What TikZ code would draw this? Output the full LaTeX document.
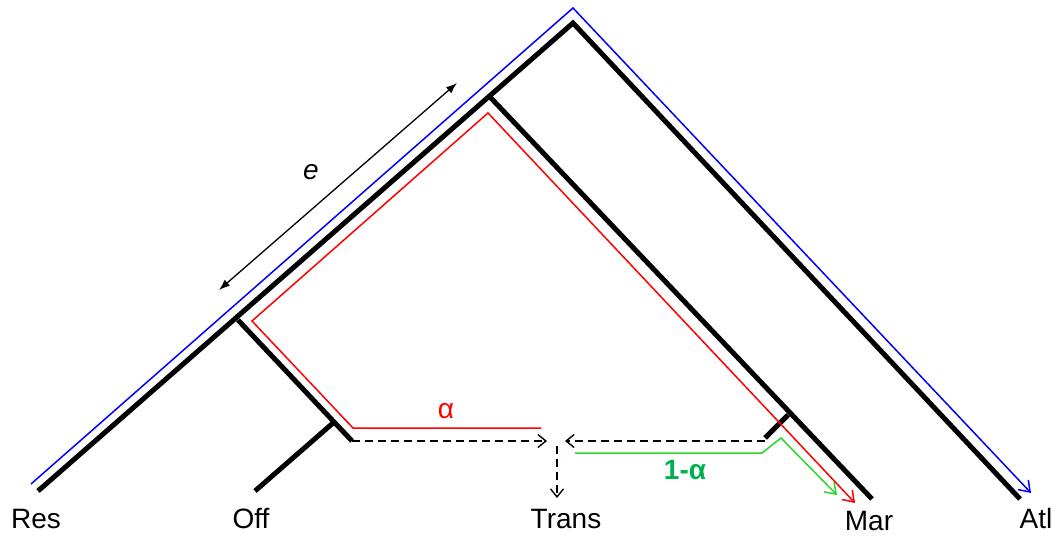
\documentclass[tikz,border=0pt]{standalone}
\usepackage{fontspec}
\setmainfont{Liberation Sans}
\usetikzlibrary{arrows.meta}
\definecolor{flowgreen}{RGB}{40,215,40}
\definecolor{labelgreen}{RGB}{0,176,80}
\tikzset{branch/.style={line width=5pt, line join=miter},
  flowpath/.style={line width=1.5pt, -{Straight Barb[length=10pt, width=14pt]}},
  migr/.style={dashed, dash pattern=on 8pt off 5pt, line width=1.4pt, -{Straight Barb[length=8pt, width=13pt]}},
  pop/.style={anchor=base, font=\fontsize{28}{31}\selectfont}}

\begin{document}
\begin{tikzpicture}[x=1pt, y=-1pt]
\useasboundingbox (0,0) rectangle (1060,536);
% tree points
\coordinate (root) at (573,23);
\coordinate (res) at (38,491);
\coordinate (atl) at (1020,499);
\coordinate (nmar) at (490,97);
\coordinate (mar) at (872,499);
\coordinate (noff) at (238,320);
\coordinate (trans) at (352,441);
\coordinate (noffleaf) at (333,423);
\coordinate (off) at (255,491);
\coordinate (tick) at (788,415);
\coordinate (tickend) at (765,438);
\draw[branch] (res) -- (root) -- (atl);
\draw[branch] (nmar) -- (mar);
\draw[branch] (noff) -- (trans);
\draw[branch] (noffleaf) -- (off);
\draw[branch] (tick) -- (tickend);
% population labels
\node[pop] (lres) at (36,528) {Res};
\node[pop] (loff) at (251,528) {Off};
\node[pop] (ltrans) at (566,528) {Trans};
\node[pop] (lmar) at (869,530) {Mar};
\node[pop] (latl) at (1036,528) {Atl};
% paths
\draw[flowpath, blue] (31,484) -- (573,8) -- (1031,493);
\coordinate (redstart) at (541,428);
\draw[flowpath, red] (redstart) -- (353,428) -- (252,321) -- (488,113) -- (855,503);
\coordinate (greenstart) at (575,453);
\draw[flowpath, flowgreen] (greenstart) -- (762,453) -- (781,438) -- (837,495);
\node[red, font=\fontsize{28}{31}\selectfont] (alpha) at (446,411) {α};
\node[labelgreen, font=\bfseries\fontsize{28}{31}\selectfont] (onealpha) at (685,470) {1-α};
% admixture
\coordinate (tleft) at (547,441);
\coordinate (tright) at (565,441);
\coordinate (mid) at (557,446);
\coordinate (down) at (557,498);
\coordinate (mright) at (765,441);
\draw[migr] (trans) -- (tleft);
\draw[migr] (mright) -- (tright);
\draw[migr] (mid) -- (down);
% branch length
\coordinate (elow) at (219,290);
\coordinate (ehigh) at (457,83);
\draw[line width=1.3pt, {Latex[length=11pt, width=8pt]}-{Latex[length=11pt, width=8pt]}] (elow) -- (ehigh);
\node[font=\itshape\fontsize{28}{31}\selectfont] (elabel) at (311,172) {e};
\end{tikzpicture}
\end{document}
